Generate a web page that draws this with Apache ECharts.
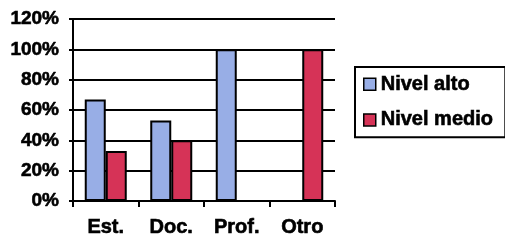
<!DOCTYPE html>
<html><head><meta charset="utf-8">
<script src="https://cdn.jsdelivr.net/npm/echarts@6/dist/echarts.min.js"></script>
<style>html,body{margin:0;padding:0;background:#fff}#c{width:505px;height:245px}</style>
</head><body><div id="c"></div>
<script>
const categories = ['Est.', 'Doc.', 'Prof.', 'Otro'];
const nivelAlto = [67, 53, 100, null];
const nivelMedio = [33, 40, null, 100];
const yTicks = [0, 20, 40, 60, 80, 100, 120];

const font = '"Liberation Sans", Arial, sans-serif';
const heavy = {fontWeight: 'bold', color: '#000', fontFamily: font, textBorderColor: '#000', textBorderWidth: 0.6};
const chart = echarts.init(document.getElementById('c'), null, {renderer: 'canvas'});
chart.setOption({
  animation: false,
  backgroundColor: '#fff',
  textStyle: {fontFamily: font},
  grid: {left: 73, right: 170, top: 19, bottom: 44, containLabel: false},
  legend: {
    orient: 'vertical', left: 355, top: 67,
    padding: [7, 12, 7, 8], itemGap: 15,
    itemWidth: 12, itemHeight: 12, icon: 'rect',
    borderColor: '#000', borderWidth: 2, backgroundColor: '#fff',
    textStyle: Object.assign({fontSize: 20}, heavy),
    itemStyle: {borderColor: '#000', borderWidth: 1.5}
  },
  xAxis: {
    type: 'category', data: categories,
    axisLine: {lineStyle: {color: '#000', width: 2}},
    axisTick: {show: true, length: 6, lineStyle: {color: '#000', width: 2}},
    axisLabel: Object.assign({fontSize: 20, margin: 16}, heavy)
  },
  yAxis: {
    type: 'value', min: yTicks[0], max: yTicks[yTicks.length - 1], interval: 20,
    axisLine: {show: true, lineStyle: {color: '#000', width: 2}},
    axisTick: {show: true, length: 4, lineStyle: {color: '#000', width: 2}},
    splitLine: {lineStyle: {color: '#000', width: 2}},
    axisLabel: Object.assign({formatter: '{value}%', fontSize: 19, margin: 14}, heavy)
  },
  series: [
    {name: 'Nivel alto', type: 'bar', data: nivelAlto, barWidth: 21, barGap: '0%',
     itemStyle: {color: '#98aee6', borderColor: '#000', borderWidth: 2}},
    {name: 'Nivel medio', type: 'bar', data: nivelMedio, barWidth: 21, barGap: '0%',
     itemStyle: {color: '#d63357', borderColor: '#000', borderWidth: 2}}
  ]
});
</script></body></html>
